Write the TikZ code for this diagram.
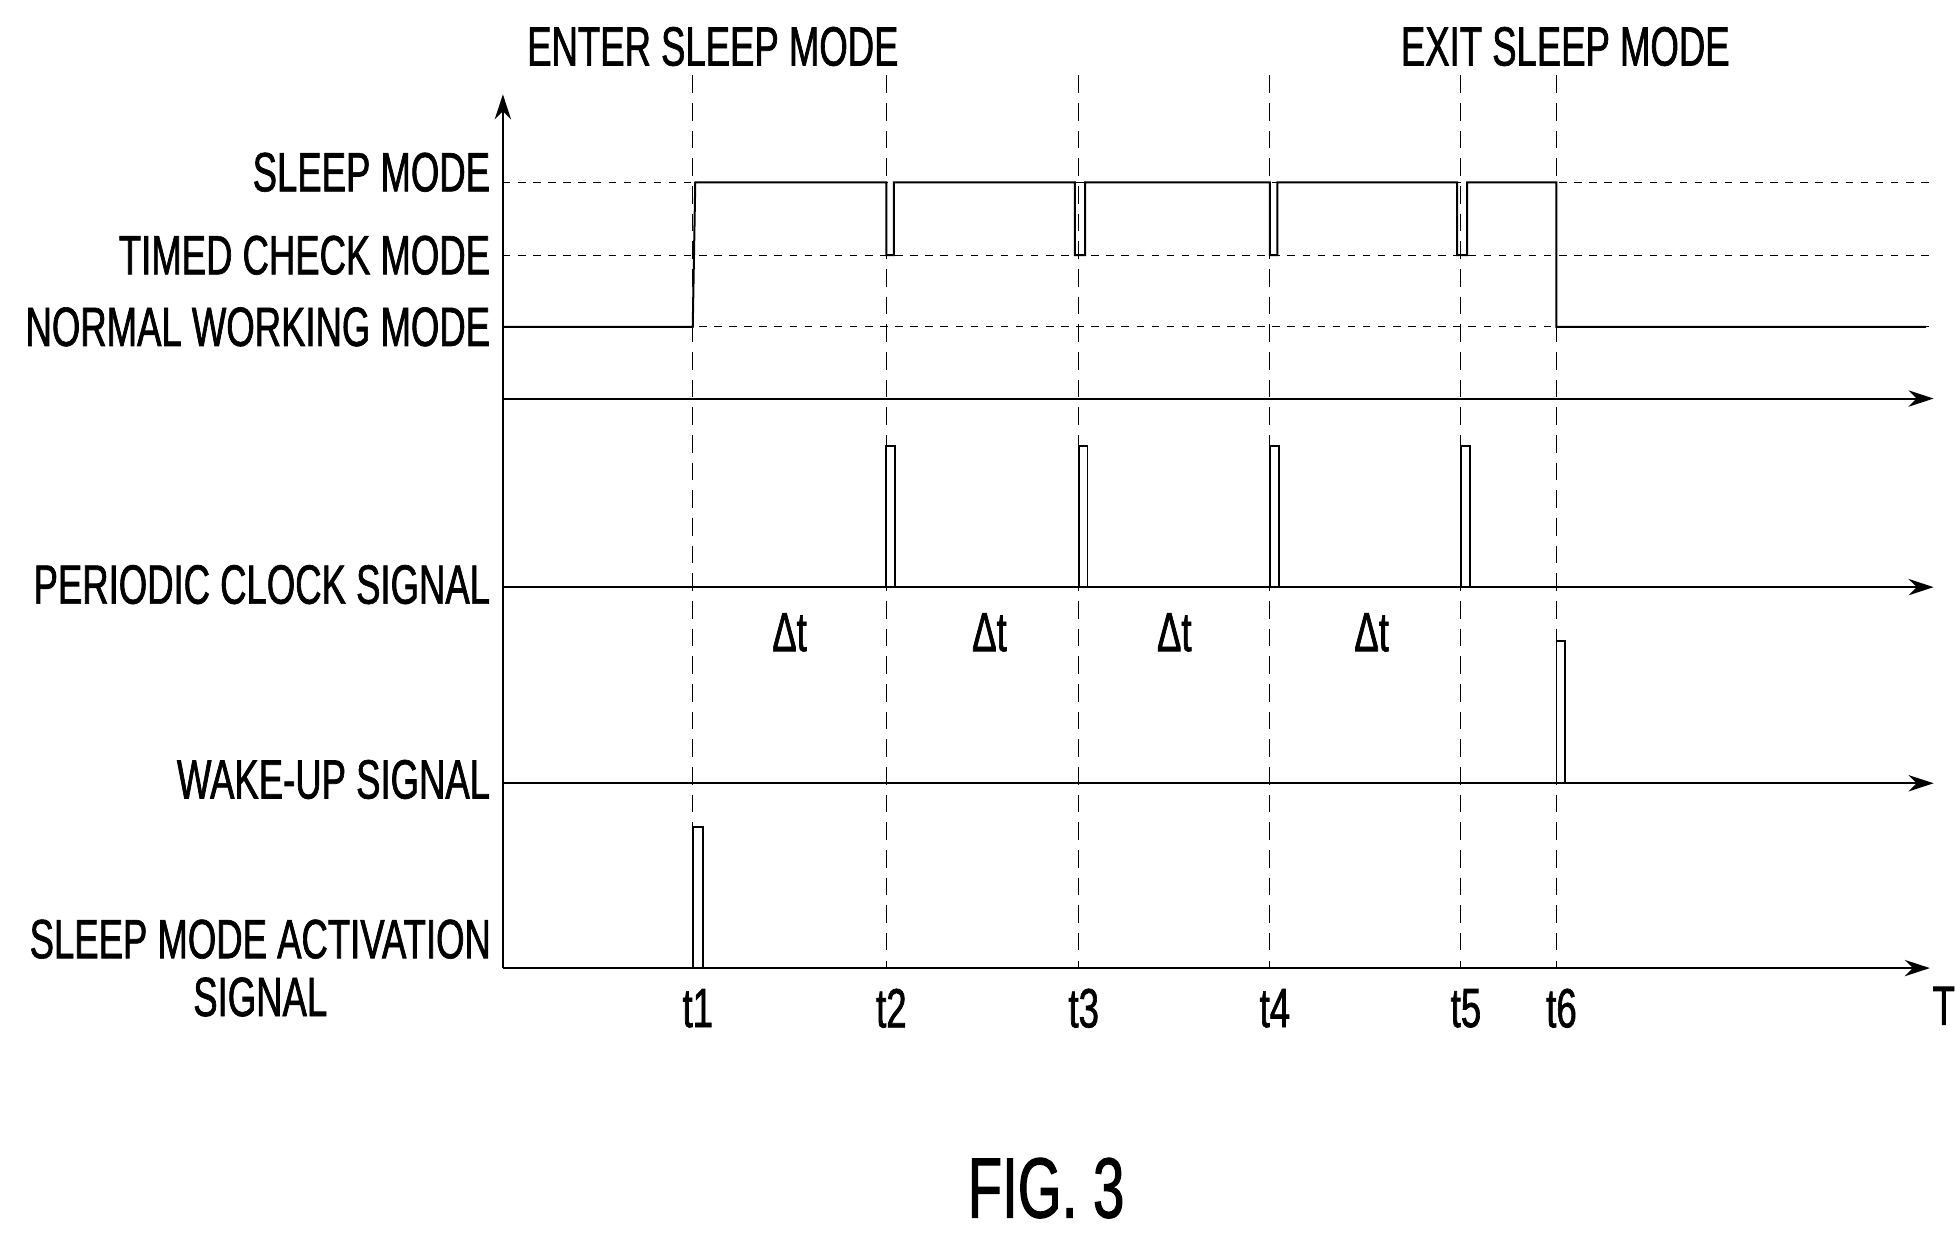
\documentclass[tikz,border=0pt]{standalone}
\usepackage{fontspec}
\setmainfont[FakeStretch=0.66,FakeBold=1.2]{Liberation Sans}
\usepackage{tikz}
\usetikzlibrary{arrows.meta}

\begin{document}
\begin{tikzpicture}[x=1pt,y=-1pt,
    lbl/.style={anchor=east,inner sep=0pt,font=\fontsize{44}{44}\selectfont},
    tlbl/.style={inner sep=0pt,font=\fontsize{44}{44}\selectfont},
    axis/.style={line width=1.6pt,-{Stealth[length=20pt,width=13pt]}},
    guide/.style={dashed,line width=0.8pt,dash pattern=on 14pt off 8pt},
    level/.style={dashed,line width=0.7pt,dash pattern=on 6pt off 6pt},
    wave/.style={line width=1.6pt}]
\useasboundingbox (0,0) rectangle (1555,982);

% axes
\coordinate (o) at (400,770);
\coordinate (top) at (400,75);
\draw[axis] (o) -- (top);
\draw[axis] (400,317) -- (1538,317);
\draw[axis] (400,467) -- (1538,467);
\draw[axis] (400,623) -- (1538,623);
\draw[axis] (o) -- (1535,770);
\node[tlbl,anchor=west] (T) at (1537,800) {T};

% levels
\draw[level] (400,145) -- (1535,145);
\draw[level] (400,203) -- (1535,203);
\draw[level] (400,260) -- (1535,260);
\node[lbl] (sleep) at (390,137) {SLEEP MODE};
\node[lbl] (timed) at (390,203) {TIMED CHECK MODE};
\node[lbl] (normal) at (390,260) {NORMAL WORKING MODE};
\node[lbl] (clock) at (390,465) {PERIODIC CLOCK SIGNAL};
\node[lbl] (wake) at (390,620) {WAKE-UP SIGNAL};
\node[tlbl,align=center] (act) at (207,770) {SLEEP MODE ACTIVATION\\[2pt]SIGNAL};

% time marks
\foreach \n/\x in {1/551,2/705,3/858,4/1010,5/1162,6/1238}{
  \draw[guide] (\x,60) -- (\x,770);
  \node[tlbl] (t\n) at (\x+4,802) {t\n};
}
\node[tlbl] (enter) at (567,37) {ENTER SLEEP MODE};
\node[tlbl] (exit) at (1245,37) {EXIT SLEEP MODE};
\foreach \x in {628,787,934,1091}
  \node[tlbl] at (\x,503) {Δt};

% mode waveform
\draw[wave] (400,260) -- (551,260) -- (553,145) -- (705,145) -- (705,203) -- (711,203) -- (711,145)
  -- (855,145) -- (855,203) -- (863,203) -- (863,145) -- (1010,145) -- (1010,203) -- (1016,203) -- (1016,145)
  -- (1159,145) -- (1159,203) -- (1167,203) -- (1167,145) -- (1238,145) -- (1238,260) -- (1532,260);

% pulses
\foreach \x in {705,858,1010,1162}
  \draw[line width=1.4pt] (\x,467) -- (\x,355) -- (\x+7,355) -- (\x+7,467);
\draw[line width=1.4pt] (1238,623) -- (1238,510) -- (1245,510) -- (1245,623);
\draw[line width=1.4pt] (551,770) -- (551,658) -- (559,658) -- (559,770);

\node[inner sep=0pt,font=\fontsize{68}{68}\selectfont] (fig) at (832,945) {FIG. 3};
\end{tikzpicture}
\end{document}
